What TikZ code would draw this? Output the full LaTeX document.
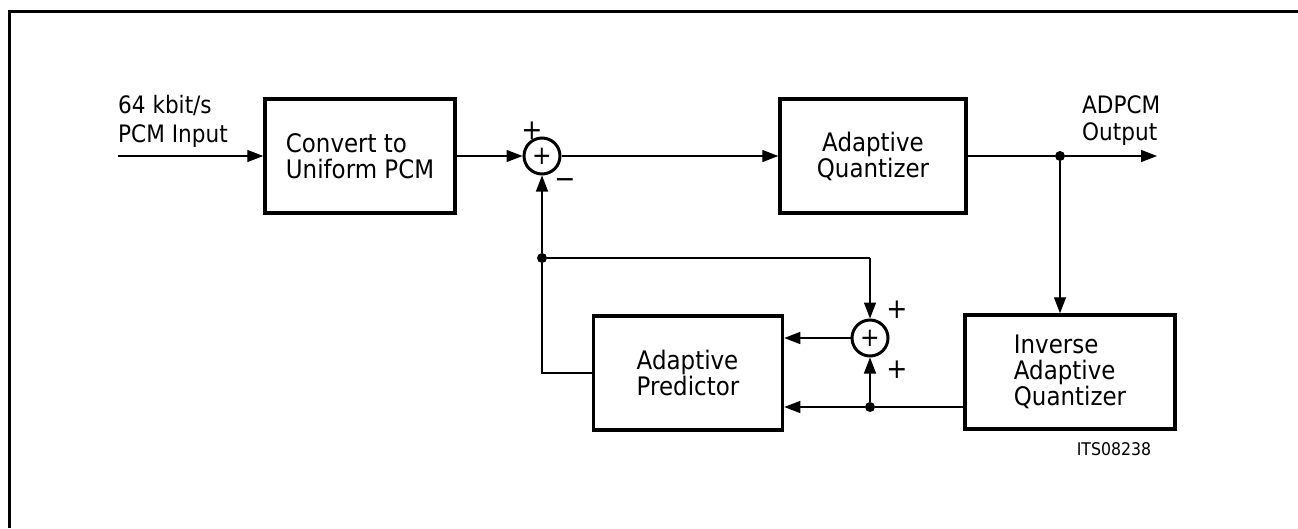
\documentclass[tikz,border=0pt]{standalone}
\usepackage{fontspec}
\setmainfont{DejaVu Sans}[FakeStretch=0.9]
\usetikzlibrary{arrows.meta}
\begin{document}
\begin{tikzpicture}[x=1pt,y=-1pt,
  blk/.style={draw,line width=3.5pt,minimum width=#1,minimum height=114pt,align=left,inner sep=0pt,font=\fontsize{25.5}{26}\selectfont},
  blk/.default=188pt,
  summ/.style={draw,circle,line width=3pt,minimum size=36pt,inner sep=0pt,font=\fontsize{26}{26}\selectfont},
  con/.style={line width=1.3pt},
  arr/.style={con,-{Triangle[length=16pt,width=12pt]}},
  dot/.style={circle,fill,inner sep=0pt,minimum size=10pt},
  lbl/.style={font=\fontsize{24}{29}\selectfont,inner sep=0pt,anchor=base west},
  sgn/.style={font=\fontsize{28}{28}\selectfont,inner sep=0pt}]
\useasboundingbox (0,0) rectangle (1298,528);
\draw[line width=3pt] (9,528) -- (9,11) -- (1298,11);
% nodes
\node[blk=190pt] (conv) at (360,156) {Convert to\\Uniform PCM};
\node[summ] (s1) at (542,156) {+};
\node[blk=186pt,align=center] (aq) at (873,156) {Adaptive\\Quantizer};
\node[blk=210pt] (iaq) at (1070,372) {Inverse\\Adaptive\\Quantizer};
\node[blk=189pt] (ap) at (688,373) {Adaptive\\Predictor};
\node[summ] (s2) at (870,338) {+};
\coordinate (in) at (118,156);
\coordinate (out) at (1157,156);
\node[dot] (d1) at (1060,156) {};
\node[dot] (d2) at (870,407) {};
\node[dot] (d3) at (542,258) {};
\coordinate (c1) at (870,258);
\coordinate (c2) at (542,373);
% labels
\node[lbl] (t1) at (118,113) {64 kbit/s};
\node[lbl] (t2) at (118,142) {PCM Input};
\node[lbl] (t3) at (1082,113) {ADPCM};
\node[lbl] (t4) at (1082,140) {Output};
\node[sgn] (p1) at (532,131) {+};
\node[sgn] (m1) at (565,184) {−};
\node[sgn] (p2) at (897,310) {+};
\node[sgn] (p3) at (897,370) {+};
\node[font=\fontsize{17.5}{17.5}\selectfont,inner sep=0pt] (id) at (1114,449) {ITS08238};
% connectors
\draw[arr] (in) -- (conv.west);
\draw[arr] (conv.east) -- (s1.west);
\draw[arr] (s1.east) -- (aq.west);
\draw[con] (aq.east) -- (d1);
\draw[arr] (d1) -- (out);
\draw[arr] (d1) -- (d1 |- iaq.north);
\draw[con] (iaq.west |- d2) -- (d2);
\draw[arr] (d2) -- (ap.east |- d2);
\draw[arr] (d2) -- (s2.south);
\draw[arr] (s2.west) -- (ap.east |- s2);
\draw[con] (ap.west |- c2) -- (c2) -- (d3);
\draw[arr] (d3) -- (s1.south);
\draw[con] (d3) -- (c1);
\draw[arr] (c1) -- (s2.north);
\end{tikzpicture}
\end{document}
